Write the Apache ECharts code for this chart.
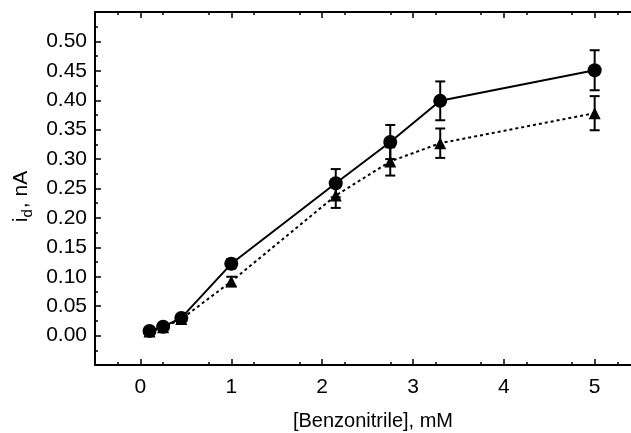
<!DOCTYPE html>
<html>
<head>
<meta charset="utf-8">
<script src="https://cdn.jsdelivr.net/npm/echarts@6/dist/echarts.min.js"></script>
<style>
html,body{margin:0;padding:0;background:#fff;}
#chart{width:631px;height:433px;}
</style>
</head>
<body>
<div id="chart"></div>
<script>
//数据
var conc = [0.1, 0.25, 0.45, 1.0, 2.15, 2.75, 3.3, 5.0];
var circleVal = [0.008, 0.015, 0.030, 0.122, 0.259, 0.329, 0.399, 0.451];
var circleErr = [0.004, 0.004, 0.004, 0.008, 0.024, 0.029, 0.033, 0.034];
var triVal = [0.007, 0.014, 0.028, 0.092, 0.238, 0.296, 0.327, 0.378];
var triErr = [0.003, 0.003, 0.003, 0.008, 0.021, 0.024, 0.025, 0.029];
var xTicks = [0, 1, 2, 3, 4, 5];
var yTicks = [0, 0.05, 0.10, 0.15, 0.20, 0.25, 0.30, 0.35, 0.40, 0.45, 0.50];

var font = 'Liberation Sans, Arial, sans-serif';

function pairs(v) {
    var out = [];
    for (var i = 0; i < conc.length; i++) {
        out.push([conc[i], v[i]]);
    }
    return out;
}
function errData(v, e) {
    var out = [];
    for (var i = 0; i < conc.length; i++) {
        out.push([conc[i], v[i], e[i]]);
    }
    return out;
}

//误差棒
function renderErr(params, api) {
    var x = api.value(0), y = api.value(1), e = api.value(2);
    var top = api.coord([x, y + e]);
    var bot = api.coord([x, y - e]);
    var w = 5;
    var st = {stroke: '#000', lineWidth: 2};
    return {
        type: 'group',
        children: [
            {type: 'line', shape: {x1: top[0], y1: top[1], x2: bot[0], y2: bot[1]}, style: st},
            {type: 'line', shape: {x1: top[0] - w, y1: top[1], x2: top[0] + w, y2: top[1]}, style: st},
            {type: 'line', shape: {x1: bot[0] - w, y1: bot[1], x2: bot[0] + w, y2: bot[1]}, style: st}
        ]
    };
}

var myChart = echarts.init(document.getElementById('chart'));

var axisCommon = {
    type: 'value',
    min: -0.5,
    max: 5.4,
    interval: 0.5,
    axisLine: {show: true, onZero: false, lineStyle: {color: '#000', width: 2}},
    axisTick: {show: true, inside: true, length: 6, lineStyle: {color: '#000', width: 1.5},
        customValues: xTicks},
    minorTick: {show: true, splitNumber: 2, length: 3, lineStyle: {color: '#000', width: 1.5}},
    splitLine: {show: false}
};

myChart.setOption({
    animation: false,
    grid: {left: 95, right: 0, top: 12, bottom: 68, containLabel: false, outerBoundsMode: 'none'},
    xAxis: [
        echarts.util.merge({
            position: 'bottom',
            name: '[Benzonitrile], mM',
            nameLocation: 'middle',
            nameGap: 46,
            nameTextStyle: {fontFamily: font, fontSize: 20, color: '#000', padding: [0, 0, 0, 20]},
            axisLabel: {
                margin: 12,
                fontFamily: font,
                fontSize: 21,
                color: '#000',
                customValues: xTicks
            }
        }, axisCommon, true),
        echarts.util.merge({
            position: 'top',
            axisLabel: {show: false}
        }, axisCommon, true)
    ],
    yAxis: {
        type: 'value',
        min: -0.05,
        max: 0.55,
        interval: 0.05,
        name: '{a|i}{b|d}{a|, nA}',
        nameLocation: 'middle',
        nameGap: 60,
        nameTextStyle: {
            color: '#000',
            padding: [0, 16, 0, 0],
            rich: {
                a: {fontFamily: font, fontSize: 21, color: '#000'},
                b: {fontFamily: font, fontSize: 15, color: '#000', verticalAlign: 'bottom', padding: [12, 1, 0, 0]}
            }
        },
        axisLine: {show: true, onZero: false, lineStyle: {color: '#000', width: 2}},
        axisTick: {show: true, inside: true, length: 6, lineStyle: {color: '#000', width: 1.5}},
        minorTick: {show: true, splitNumber: 2, length: 3, lineStyle: {color: '#000', width: 1.5}},
        splitLine: {show: false},
        axisLabel: {
            margin: 8,
            fontFamily: font,
            fontSize: 21,
            color: '#000',
            customValues: yTicks,
            formatter: function (v) { return v.toFixed(2); }
        }
    },
    series: [
        {
            type: 'line',
            data: pairs(triVal),
            symbol: 'triangle',
            symbolSize: 12,
            lineStyle: {color: '#000', width: 2, type: [3, 3]},
            itemStyle: {color: '#000'},
            z: 3
        },
        {
            type: 'custom',
            renderItem: renderErr,
            data: errData(triVal, triErr),
            z: 2
        },
        {
            type: 'line',
            data: pairs(circleVal),
            symbol: 'circle',
            symbolSize: 14,
            lineStyle: {color: '#000', width: 2},
            itemStyle: {color: '#000'},
            z: 4
        },
        {
            type: 'custom',
            renderItem: renderErr,
            data: errData(circleVal, circleErr),
            z: 2
        }
    ]
});
</script>
</body>
</html>
